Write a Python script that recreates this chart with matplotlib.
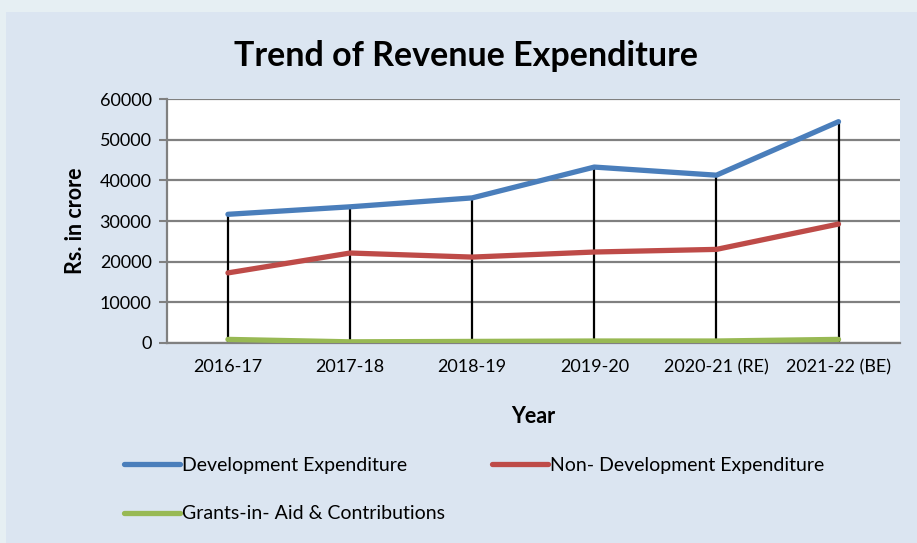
import matplotlib.pyplot as plt
from matplotlib.patches import Rectangle

years = ['2016-17', '2017-18', '2018-19', '2019-20', '2020-21 (RE)', '2021-22 (BE)']
development = [31650, 33500, 35700, 43300, 41300, 54500]
non_development = [17200, 22100, 21100, 22350, 23000, 29250]
grants = [800, 200, 300, 400, 400, 800]

labels = ['Development Expenditure', 'Non- Development Expenditure',
          'Grants-in- Aid & Contributions']
colors = ['#4a7ebb', '#be4b48', '#98b954']

plt.rcParams['font.family'] = ['Lato', 'DejaVu Sans']

fig = plt.figure(figsize=(9.17, 5.43), dpi=100)
fig.patch.set_facecolor('#e6eff3')
# chart area panel
fig.patches.append(Rectangle((0.006, 0), 0.994, 0.978, transform=fig.transFigure,
                             facecolor='#dbe5f1', edgecolor='none', zorder=-1))

ax = fig.add_axes([0.182, 0.369, 0.799, 0.448])
ax.set_facecolor('white')

x = [i + 0.5 for i in range(len(years))]

# high-low lines
ax.vlines(x, 0, development, colors='black', linewidth=1.6, zorder=2)

lines = []
for values, label, color in zip([development, non_development, grants], labels, colors):
    ln, = ax.plot(x, values, color=color, linewidth=3.8, label=label,
                  solid_capstyle='round', solid_joinstyle='round', zorder=3)
    lines.append(ln)

ax.set_xlim(0, 6)
ax.set_ylim(0, 60000)
ax.set_yticks(range(0, 60001, 10000))
ax.set_xticks(x)
ax.set_xticklabels(years)
ax.grid(axis='y', color='#808080', linewidth=1.6)
ax.set_axisbelow(True)

for side in ['top', 'right']:
    ax.spines[side].set_visible(False)
ax.spines['left'].set_color('#808080')
ax.spines['left'].set_linewidth(1.6)
ax.spines['bottom'].set_color('#808080')
ax.spines['bottom'].set_linewidth(1.6)
ax.tick_params(axis='y', length=6, width=1.5, color='#808080', labelsize=13, pad=5)
ax.tick_params(axis='x', length=0, labelsize=13, pad=12)

ax.set_ylabel('Rs. in crore', fontsize=15.5, fontweight='bold', labelpad=10)
ax.set_xlabel('Year', fontsize=15.5, fontweight='bold', labelpad=22)

fig.text(0.508, 0.897, 'Trend of Revenue Expenditure', ha='center', va='center',
         fontsize=24.5, fontweight='bold')

# legend fills column-wise, so order handles to get rows: dev, non-dev / grants
fig.legend([lines[0], lines[2], lines[1]], [labels[0], labels[2], labels[1]],
           loc='upper left', bbox_to_anchor=(0.135, 0.158), ncol=2, frameon=False,
           fontsize=14, handlelength=2.9, handletextpad=0.1, columnspacing=2.4,
           labelspacing=1.6, borderaxespad=0, borderpad=0)

fig.savefig('out.png', dpi=100, facecolor=fig.get_facecolor())
